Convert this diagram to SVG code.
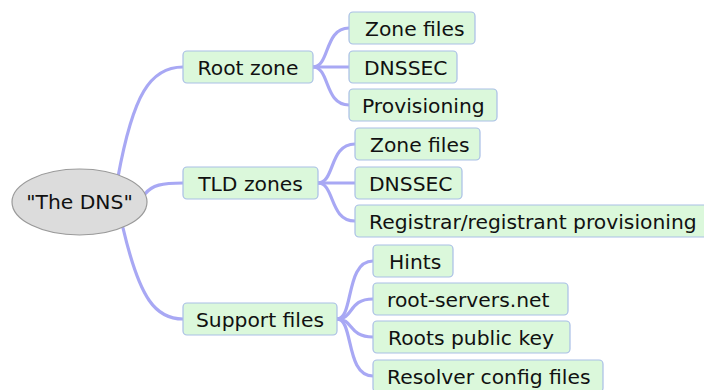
<svg xmlns="http://www.w3.org/2000/svg" width="704" height="390" viewBox="0 0 704 390">
<style>
.box{fill:#dbf8db;stroke:#a9bfe6;stroke-width:1.2}
.lbl{font-family:"DejaVu Sans","Liberation Sans",sans-serif;font-size:20.3px;fill:#111}
.edge{fill:none;stroke:#a8a8f4;stroke-width:3.2;stroke-linecap:round}
</style>
<rect width="704" height="390" fill="#fff"/>
<g id="connectors">
<path class="edge" d="M118 177 C133 95 150 67 183 67"/>
<path class="edge" d="M145 194 C152 185 162 183 183 183"/>
<path class="edge" d="M123 228 C140 300 156 319 183 319"/>
<path class="edge" d="M313 67 C330 67 324 28 349 28"/>
<path class="edge" d="M313 67 L349 67"/>
<path class="edge" d="M313 67 C330 67 324 105 349 105"/>
<path class="edge" d="M318 183 C335 183 329 144 355 144"/>
<path class="edge" d="M318 183 L355 183"/>
<path class="edge" d="M318 183 C335 183 329 221 355 221"/>
<path class="edge" d="M337 319 C354 319 345 261 373 261"/>
<path class="edge" d="M337 319 C354 319 348 299 373 299"/>
<path class="edge" d="M337 319 C354 319 348 337 373 337"/>
<path class="edge" d="M337 319 C354 319 345 376 373 376"/>
</g>
<g id="n-root">
<ellipse cx="79.5" cy="202" rx="67.5" ry="33" fill="#dcdcdc" stroke="#9a9a9a" stroke-width="1.2"/>
<text class="lbl" x="79.5" y="209" text-anchor="middle">"The DNS"</text>
</g>
<g id="n-rootzone">
<rect class="box" x="183" y="51" width="130" height="32" rx="4"/>
<text class="lbl" x="248" y="74.5" text-anchor="middle">Root zone</text>
</g>
<g id="n-rz-zone">
<rect class="box" x="349" y="12" width="126" height="32" rx="4"/>
<text class="lbl" x="365" y="35.5">Zone files</text>
</g>
<g id="n-rz-dnssec">
<rect class="box" x="349" y="51" width="108" height="32" rx="4"/>
<text class="lbl" x="364" y="74.5">DNSSEC</text>
</g>
<g id="n-rz-prov">
<rect class="box" x="349" y="89" width="148" height="32" rx="4"/>
<text class="lbl" x="362" y="112.5">Provisioning</text>
</g>
<g id="n-tld">
<rect class="box" x="183" y="167" width="135" height="32" rx="4"/>
<text class="lbl" x="250.5" y="190.5" text-anchor="middle">TLD zones</text>
</g>
<g id="n-tld-zone">
<rect class="box" x="355" y="128" width="125" height="32" rx="4"/>
<text class="lbl" x="370" y="151.5">Zone files</text>
</g>
<g id="n-tld-dnssec">
<rect class="box" x="355" y="167" width="107" height="32" rx="4"/>
<text class="lbl" x="369" y="190.5">DNSSEC</text>
</g>
<g id="n-tld-reg">
<rect class="box" x="355" y="205" width="360" height="32" rx="4"/>
<text class="lbl" x="369" y="228.5">Registrar/registrant provisioning</text>
</g>
<g id="n-support">
<rect class="box" x="183" y="303" width="154" height="32" rx="4"/>
<text class="lbl" x="260" y="326.5" text-anchor="middle">Support files</text>
</g>
<g id="n-hints">
<rect class="box" x="373" y="245" width="80" height="32" rx="4"/>
<text class="lbl" x="389" y="268.5">Hints</text>
</g>
<g id="n-rootservers">
<rect class="box" x="373" y="283" width="195" height="32" rx="4"/>
<text class="lbl" x="387" y="306.5">root-servers.net</text>
</g>
<g id="n-rootkey">
<rect class="box" x="373" y="321" width="197" height="32" rx="4"/>
<text class="lbl" x="388" y="344.5">Roots public key</text>
</g>
<g id="n-resolver">
<rect class="box" x="373" y="360" width="230" height="32" rx="4"/>
<text class="lbl" x="387" y="383.5">Resolver config files</text>
</g>
</svg>
